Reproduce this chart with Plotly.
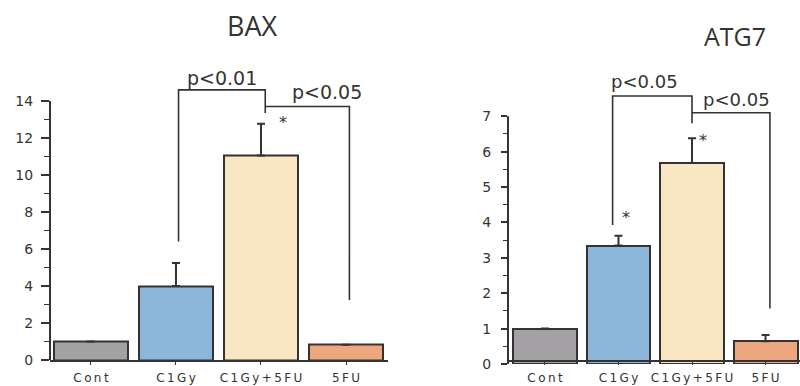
import plotly.graph_objects as go

# Relative expression per treatment group
categories = ["Cont", "C1Gy", "C1Gy+5FU", "5FU"]
bax_mean = [1.0, 4.0, 11.05, 0.82]
bax_err = [None, 1.25, 1.72, None]
atg7_mean = [1.0, 3.35, 5.68, 0.64]
atg7_err = [None, 0.27, 0.70, 0.18]
bar_colors = ["#a3a1a3", "#8db7da", "#f8e7c2", "#eca77f"]
bax_ticks = [0, 2, 4, 6, 8, 10, 12, 14]
atg7_ticks = [0, 1, 2, 3, 4, 5, 6, 7]

INK = "#333333"
TICK_FONT = dict(family="DejaVu Sans", size=14, color=INK)
CAT_FONT = dict(family="DejaVu Sans", size=12, color=INK)

BAX_DOMAIN = [26 / 386, (386 - 82.5) / 386]
BAX_RANGE = [0, 15]
ATG_DOMAIN = [22 / 386, (386 - 87.9) / 386]
ATG_RANGE = [0, 7.8]


def spaced(label):
    return "\u2009".join(label)


def paper_y(domain, rng, v):
    return domain[0] + (domain[1] - domain[0]) * (v - rng[0]) / (rng[1] - rng[0])


xs = list(range(len(categories)))
fig = go.Figure()

for mean, err, xa, ya in [(bax_mean, bax_err, "x", "y"), (atg7_mean, atg7_err, "x2", "y2")]:
    fig.add_trace(go.Bar(
        x=xs, y=mean, width=0.87, xaxis=xa, yaxis=ya,
        marker=dict(color=bar_colors, line=dict(color=INK, width=2)),
        error_y=dict(type="data", array=err, arrayminus=[0] * len(err),
                     symmetric=False, color=INK, thickness=2, width=4,
                     visible=True),
        showlegend=False,
    ))

fig.update_layout(
    width=800, height=386,
    margin=dict(l=0, r=0, t=0, b=0),
    paper_bgcolor="white", plot_bgcolor="white",
    bargap=0,
    xaxis=dict(domain=[50 / 800, 388 / 800], range=[-0.482, 3.494],
               tickvals=xs, ticktext=[spaced(c) for c in categories],
               showline=True, linecolor=INK, linewidth=2,
               ticks="outside", ticklen=3, tickcolor=INK, tickwidth=1,
               ticklabelstandoff=3, automargin=False,
               tickfont=CAT_FONT, showgrid=False, zeroline=False),
    yaxis=dict(domain=BAX_DOMAIN, range=BAX_RANGE,
               tickvals=bax_ticks, showline=False, automargin=False,
               ticks="outside", ticklen=8, tickcolor=INK, tickwidth=1.5,
               ticklabelstandoff=5,
               minor=dict(tickvals=[1, 3, 5, 7, 9, 11, 13], ticks="outside",
                          ticklen=5, tickcolor=INK, tickwidth=1),
               tickfont=TICK_FONT, showgrid=False, zeroline=False),
    xaxis2=dict(domain=[508 / 800, 1.0], range=[-0.503, 3.469],
                tickvals=xs, ticktext=[spaced(c) for c in categories],
                showline=True, linecolor=INK, linewidth=2,
                ticks="outside", ticklen=3, tickcolor=INK, tickwidth=1,
                ticklabelstandoff=3, automargin=False,
                tickfont=CAT_FONT, showgrid=False, zeroline=False),
    yaxis2=dict(domain=ATG_DOMAIN, range=ATG_RANGE, automargin=False,
                anchor="x2", tickvals=atg7_ticks, showline=False,
                ticks="outside", ticklen=6, tickcolor=INK, tickwidth=1.5,
                ticklabelstandoff=7,
                minor=dict(tickvals=[0.5, 1.5, 2.5, 3.5, 4.5, 5.5, 6.5],
                           ticks="outside", ticklen=4, tickcolor=INK, tickwidth=1),
                tickfont=TICK_FONT, showgrid=False, zeroline=False),
)

# y axis spines ending at the top tick
fig.add_shape(type="line", xref="x domain", yref="y", x0=0, x1=0, y0=0, y1=14,
              line=dict(color=INK, width=2))
fig.add_shape(type="line", xref="x2 domain", yref="y2", x0=0, x1=0, y0=0, y1=7,
              line=dict(color=INK, width=2))


def bracket(xref, yref, x0, x1, top, drop0, drop1):
    fig.add_shape(type="path", xref=xref, yref=yref,
                  path=f"M {x0},{drop0} L {x0},{top} L {x1},{top} L {x1},{drop1}",
                  line=dict(color=INK, width=1.6))


def note(xref, domain, rng, x, y, text, size):
    fig.add_annotation(xref=xref, yref="paper", x=x, y=paper_y(domain, rng, y),
                       text=text, showarrow=False,
                       font=dict(family="DejaVu Sans", size=size, color=INK),
                       xanchor="center", yanchor="middle")


# BAX significance brackets
bracket("x", "y", 1.03, 2.05, 14.6, 6.4, 13.35)
bracket("x", "y", 2.05, 3.04, 13.7, 13.7, 3.24)
note("x", BAX_DOMAIN, BAX_RANGE, 1.54, 15.25, "p<0.01", 19)
note("x", BAX_DOMAIN, BAX_RANGE, 2.78, 14.5, "p<0.05", 19)
note("x", BAX_DOMAIN, BAX_RANGE, 2.26, 12.85, "*", 16)

# ATG7 significance brackets
bracket("x2", "y2", 0.92, 2.0, 7.57, 3.93, 6.8)
bracket("x2", "y2", 2.0, 3.06, 7.10, 7.10, 1.57)
note("x2", ATG_DOMAIN, ATG_RANGE, 1.36, 7.97, "p<0.05", 18)
note("x2", ATG_DOMAIN, ATG_RANGE, 2.61, 7.46, "p<0.05", 18)
note("x2", ATG_DOMAIN, ATG_RANGE, 1.1, 4.15, "*", 16)
note("x2", ATG_DOMAIN, ATG_RANGE, 2.15, 6.3, "*", 16)

# Panel titles
fig.add_annotation(xref="paper", yref="paper", x=253 / 800, y=1 - 25 / 386,
                   text="BAX", showarrow=False, xanchor="center", yanchor="middle",
                   font=dict(family="Open Sans", size=27, color=INK))
fig.add_annotation(xref="paper", yref="paper", x=735 / 800, y=1 - 36 / 386,
                   text="ATG7", showarrow=False, xanchor="center", yanchor="middle",
                   font=dict(family="Open Sans", size=25, color=INK))

fig.write_html("out.html")
